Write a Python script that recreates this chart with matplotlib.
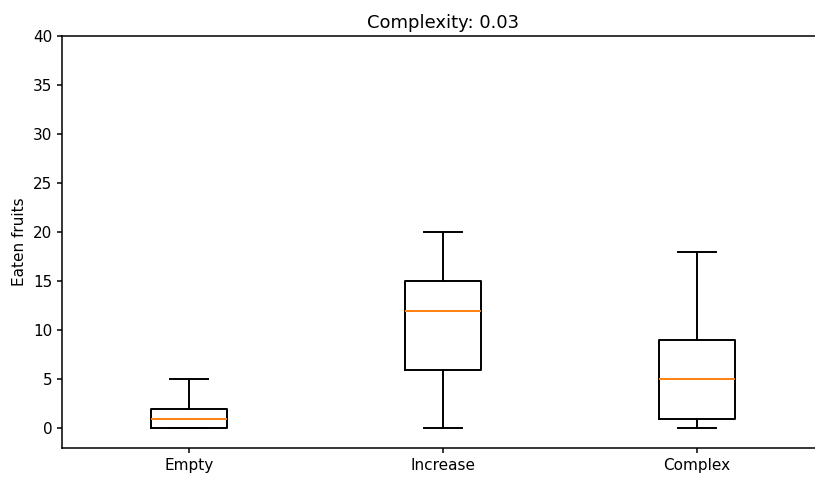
import matplotlib
matplotlib.use("Agg")
import matplotlib.pyplot as plt

# box stats per strategy
labels = ["Empty", "Increase", "Complex"]
whislo = [0, 0, 0]
q1 = [0, 6, 1]
med = [1, 12, 5]
q3 = [2, 15, 9]
whishi = [5, 20, 18]

stats = [dict(label=l, whislo=a, q1=b, med=c, q3=d, whishi=e, fliers=[])
         for l, a, b, c, d, e in zip(labels, whislo, q1, med, q3, whishi)]

plt.rcParams.update({"font.size": 11, "axes.linewidth": 1.1,
                     "xtick.major.width": 1.1, "ytick.major.width": 1.1})

fig = plt.figure(figsize=(8.15, 4.8), dpi=100)
ax = fig.add_axes([62 / 815, 32 / 480, 762 / 815, 412 / 480])
lw = dict(linewidth=1.4)
ax.bxp(stats, widths=0.3, boxprops=lw, whiskerprops=lw, capprops=lw,
       medianprops=dict(linewidth=1.4, color="C1"))
ax.set_xlim(0.5, 3.5)
ax.set_ylim(-2, 40)
ax.set_yticks(range(0, 41, 5))
ax.spines["right"].set_visible(False)
ax.set_ylabel("Eaten fruits", fontsize=11)
ax.set_title("Complexity: 0.03", fontsize=13)
fig.savefig("out.png", dpi=100)
